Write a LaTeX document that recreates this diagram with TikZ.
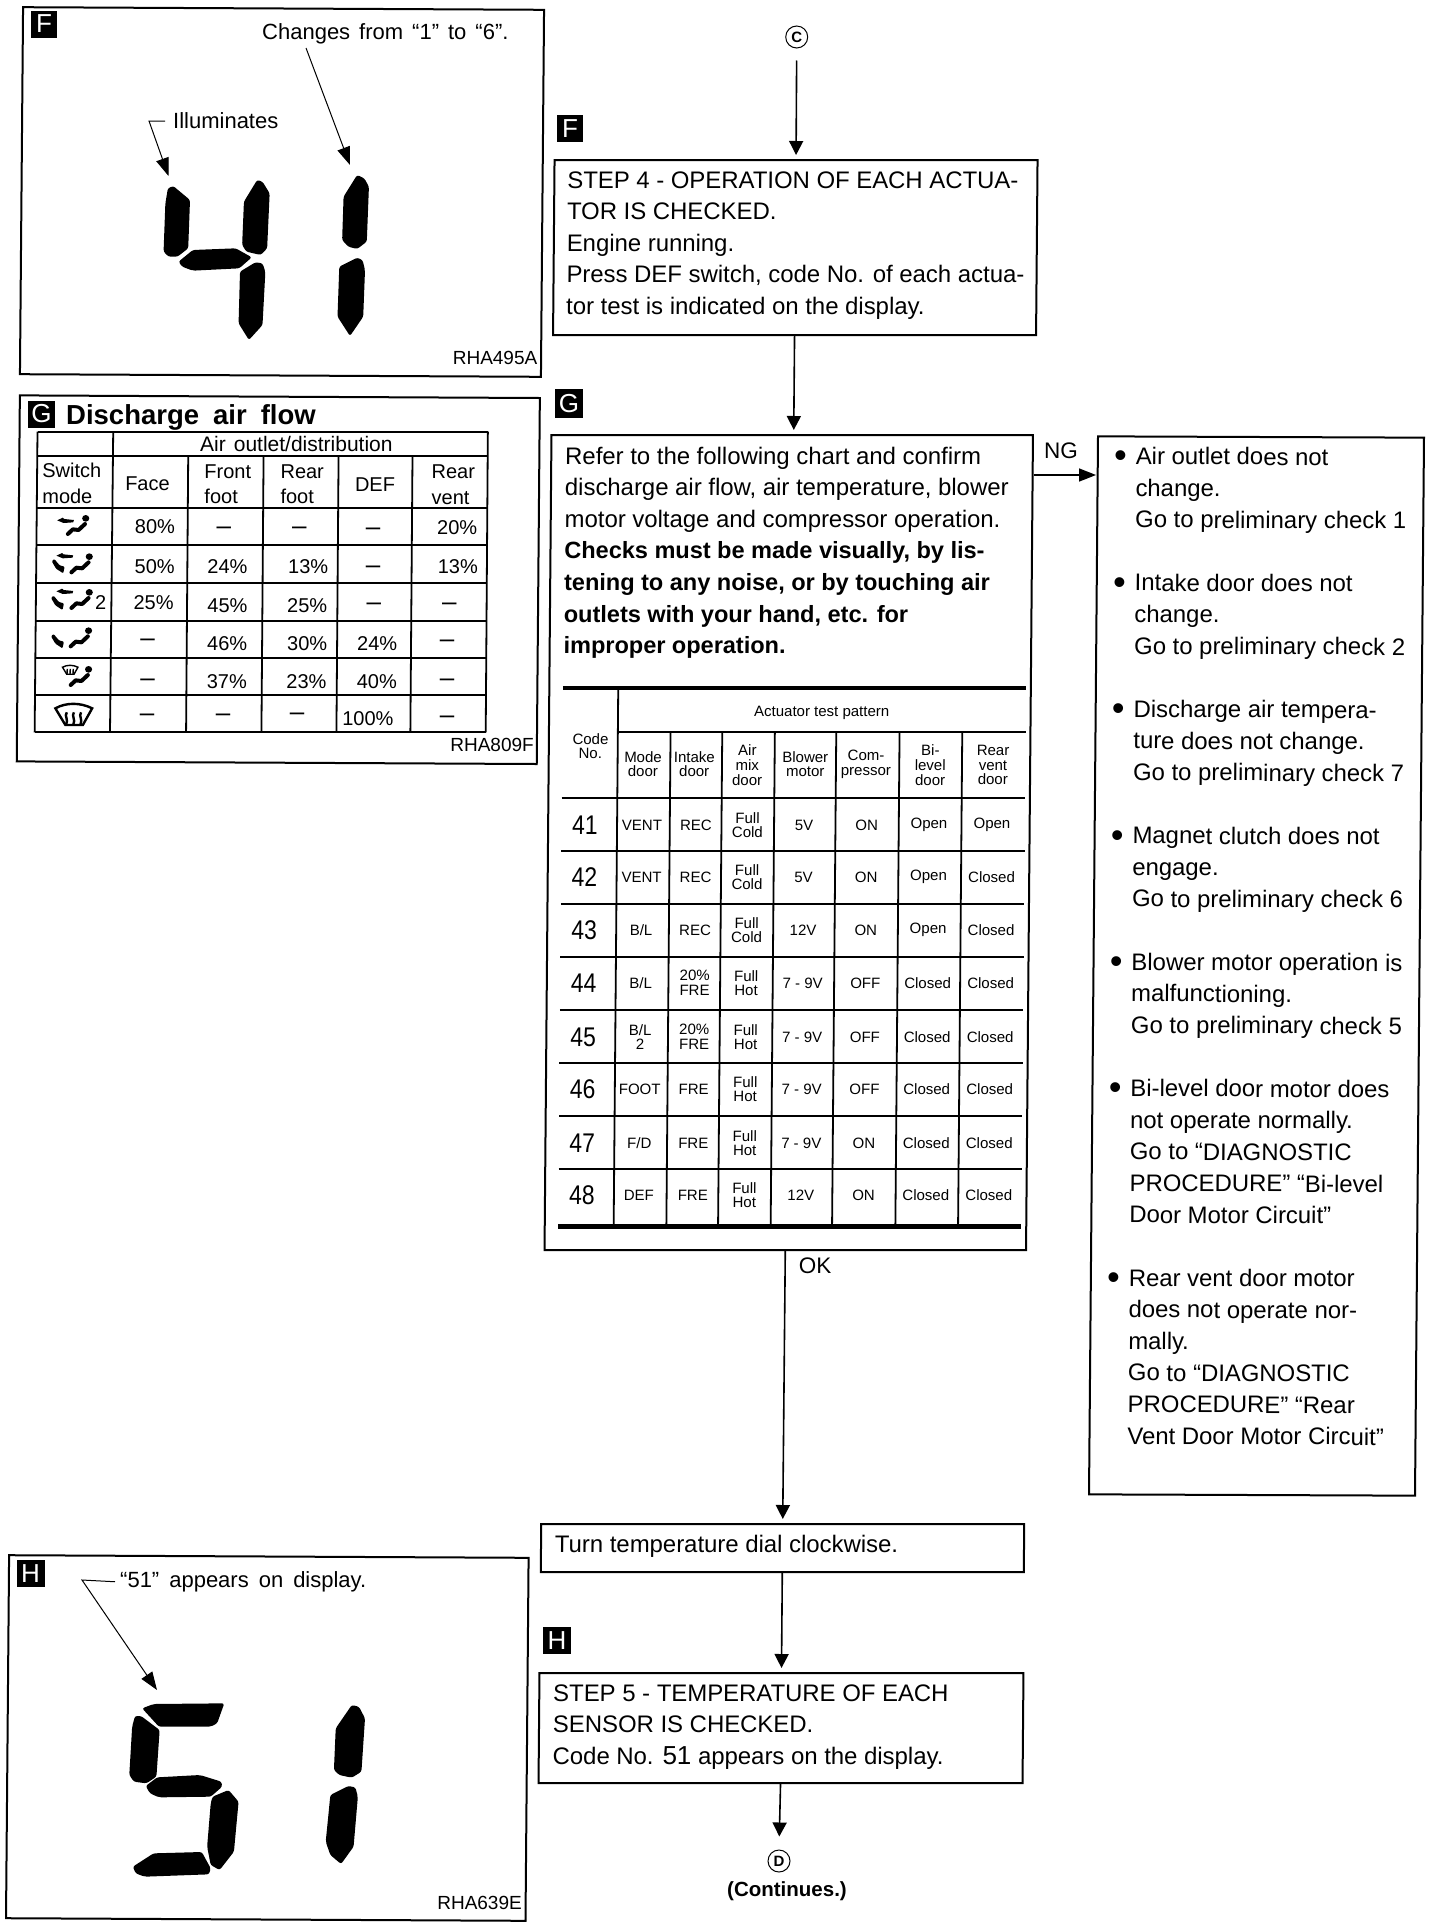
\documentclass[tikz,border=0pt]{standalone}
\usepackage{fontspec}
\setmainfont{Liberation Sans}
\usetikzlibrary{arrows.meta}
\newcommand\fs[2]{\fontsize{#1pt}{#2pt}\selectfont}
% width, height, left offset, first baseline, text
\newcommand\boxtxt[5]{\parbox[c][#2pt][t]{#1pt}{\parindent=0pt\leftskip=#3pt\rightskip=0pt plus 1fil\parfillskip=0pt plus 1fil\fs{23.9}{31.6}\rule{0pt}{#4pt}#5}}
\newcommand\bul{\makebox[0pt][r]{\raisebox{-3.5pt}{\fs{36}{36}•}\hspace{9pt}}}
\newcommand\dsh{{\fs{26}{26}–}}
\newcommand\fc{Full\\Cold}
\newcommand\fh{Full\\Hot}
\newcommand\twf{20\%\\FRE}
\newcommand\blv{B/L}
\newcommand\bltwo{B/L\\2}
\newcommand\fdv{F/D}
\newcommand\seatic[2]{\begin{scope}[shift={(#1,#2)}]
  \fill (240,385) circle[radius=10];
  \draw[line width=4pt,line cap=round,line join=round] (190,432) -- (204,418) -- (220,420) -- (238,402);
\end{scope}}
\newcommand\faceic[2]{\fill[shift={(#1,#2)}] (160,391) -- (176,383) -- (180,387) -- (207,390) -- (205,397) -- (178,399) -- cycle;}
\newcommand\footic[2]{\fill[shift={(#1,#2)},rounded corners=1pt] (143,514) -- (150,507) -- (165,526) -- (179,530) -- (175,550) -- (155,536) -- cycle;}
\newcommand\defrostic[4]{\begin{scope}[shift={(#1,#2)},scale=#3,line width=#4]
  \draw (-50,-20) .. controls (-20,-38) and (20,-38) .. (53,-20) -- (27,30) -- (-22,30) -- cycle;
  \foreach \q in {-18,2,22}{\draw (\q,-8) .. controls (\q-8,4) and (\q+6,12) .. (\q-2,30);}
\end{scope}}
\tikzset{
  skewat/.style n args={3}{shift={(#1,#2)},xslant=0.0085,yslant=#3,shift={(-#1,-#2)}},
  zoomview/.style={shift={(#1)},x=0.35714pt,y=-0.33333pt},
  every node/.style={inner sep=0pt,transform shape},
  flowbox/.style={draw,line width=2pt,fill=white},
  panelbox/.style={draw,line width=2pt},
  tagbox/.style={fill=black,text=white,minimum width=27pt,minimum height=27pt,font=\fs{26}{26}},
  plain/.style={font=\fs{22}{22}},
  rha/.style={anchor=east,font=\fs{19}{19}},
  flow/.style={line width=1.6pt,-{Triangle[length=14pt,width=14pt]},shorten >=4pt},
  leader/.style={line width=1pt,line join=miter,-{Triangle[length=18pt,width=13pt]}},
  seg/.style={fill=black,rounded corners=2.2pt},
  conn/.style={circle,draw,line width=1pt,minimum size=22pt,font=\bfseries\fs{15}{15}},
  tline/.style={line width=1.8pt},
  airc/.style={font=\fs{20}{20},text height=14.3pt,text depth=0pt},
  airl/.style={font=\fs{20}{25.7},align=left,anchor=west},
  tc/.style={font=\fs{15}{14.7},align=center},
  codec/.style={font=\fs{27}{27}},
}
\begin{document}
\begin{tikzpicture}[x=1pt,y=-1pt]
\fill[white] (0,0) rectangle (1440,1930);
\useasboundingbox (0,0) rectangle (1440,1930);

% ---------- Panel F ----------
\begin{scope}[skewat={282}{192}{-0.005}]
\node[panelbox,minimum width=521pt,minimum height=367pt] (panelF) at (282,192) {};
\end{scope}
\node[tagbox,minimum width=26pt] (tagPF) at (44,24) {F};
\node[plain,anchor=west] (chg) at (262,33.5) {\spaceskip=9pt Changes from “1” to “6”.};
\node[plain,anchor=west] (illum) at (173,121) {Illuminates};
\node[rha] (rhaF) at (537.5,358) {RHA495A};
\coordinate (illcorner) at (149,121);
\coordinate (illtip) at (168.5,176);
\coordinate (chgstart) at (306,48);
\coordinate (chgtip) at (350,165);
\draw[leader,shorten <=8pt] (illum.west) -- (illcorner) -- (illtip);
\draw[leader] (chgstart) -- (chgtip);
\begin{scope}[zoomview={0,0}]
\fill[seg] (470,565) -- (485,558) -- (532,600) -- (527,745) -- (497,770) -- (472,770) -- (458,755) -- (463,610) -- cycle;
\fill[seg] (720,540) -- (735,545) -- (755,580) -- (748,745) -- (730,765) -- (690,755) -- (678,735) -- (683,605) -- cycle;
\fill[seg] (500,785) -- (540,750) -- (660,745) -- (705,772) -- (670,805) -- (540,812) -- (510,800) -- cycle;
\fill[seg] (715,787) -- (735,790) -- (743,815) -- (735,975) -- (697,1020) -- (668,970) -- (672,815) -- cycle;
\fill[seg] (1000,525) -- (1020,535) -- (1033,560) -- (1027,725) -- (1000,747) -- (975,740) -- (958,720) -- (962,590) -- cycle;
\fill[seg] (1000,773) -- (1015,780) -- (1022,810) -- (1017,950) -- (980,1008) -- (945,950) -- (950,800) -- cycle;
\end{scope}

% ---------- Panel G ----------
\begin{scope}[skewat={278.3}{579.7}{-0.005}]
\node[panelbox,minimum width=520pt,minimum height=366pt] (panelG) at (278.3,579.7) {};
\end{scope}
\node[tagbox] (tagPG) at (41.5,414) {G};
\node[anchor=west,font=\bfseries\fs{27.5}{27.5}] (dtitle) at (66,417) {\spaceskip=14pt Discharge air flow};
\node[rha] (rhaG) at (534,745) {RHA809F};
\begin{scope}[zoomview={0,390}]
\foreach \xa/\ya/\xb in {105/125/1366,104.4/197/1365.5,103/355/1364.5,102/465/1364,101/580/1363,100/692/1362,99/803/1361.5,98/915/1361,97/1027/1360}
  \draw[tline] (\xa,\ya) -- (\xb,\ya);
\draw[tline] (105,125) -- (97,1027);
\draw[tline] (317,125) -- (308,1027);
\draw[tline] (527,197) -- (521,1027);
\draw[tline] (738,197) -- (732,1027);
\draw[tline] (948,197) -- (942,1027);
\draw[tline] (1155,197) -- (1149,1027);
\draw[tline] (1366,125) -- (1360,1027);
\node[airc,font=\fs{21}{21}] (airhead) at (830,163) {\spaceskip=8pt Air outlet/distribution};
\node[airl] (hsw) at (118,281) {Switch\\mode};
\node[airc] (hface) at (413,280) {Face};
\node[airl] (hff) at (572,283) {Front\\foot};
\node[airl] (hrf) at (785,283) {Rear\\foot};
\node[airc] (hdef) at (1050,282) {DEF};
\node[airl] (hrv) at (1208,285) {Rear\\vent};
\foreach \xx/\yy/\lbl in {434/410/80\%,627/412/\dsh,838/412/\dsh,1045/414/\dsh,1280/412/20\%,
  433/528/50\%,637/530/24\%,863/530/13\%,1045/530/\dsh,1282/530/13\%,
  430/636/25\%,637/645/45\%,860/645/25\%,1047/640/\dsh,1258/640/\dsh,
  413/748/\dsh,636/760/46\%,860/760/30\%,1056/760/24\%,1252/752/\dsh,
  413/868/\dsh,635/873/37\%,858/873/23\%,1055/875/40\%,1252/868/\dsh,
  412/972/\dsh,625/972/\dsh,832/970/\dsh,1030/985/100\%,1252/978/\dsh}
  \node[airc,name=dc\xx-\yy] at (\xx,\yy) {\lbl};
\node[airc] (mode2) at (282,638) {2};
\seatic{0}{0}\faceic{0}{0}
\seatic{10}{115}\faceic{-2}{106}\footic{2}{0}
\seatic{10}{222}\faceic{-2}{213}\footic{0}{110}
\seatic{8}{337}\footic{0}{225}
\seatic{8}{453}
\defrostic{196}{840}{0.42}{1.4pt}
\defrostic{205}{975}{1}{2.4pt}
\end{scope}

% ---------- Panel H ----------
\begin{scope}[skewat={267.3}{1738}{-0.005}]
\node[panelbox,minimum width=519.5pt,minimum height=363pt] (panelH) at (267.3,1738) {};
\end{scope}
\node[tagbox,minimum width=28pt] (tagPH) at (30.5,1573.5) {H};
\node[plain,anchor=west] (appears) at (120,1582) {\spaceskip=10pt “51” appears on display.};
\node[rha] (rhaH) at (522,1903) {RHA639E};
\coordinate (hcorner) at (82,1580);
\coordinate (htip) at (157,1690);
\draw[leader,shorten <=5pt] (appears.west) -- (hcorner) -- (htip);
\begin{scope}[zoomview={0,1540}]
\fill[seg] (398,505) -- (430,492) -- (628,490) -- (608,550) -- (590,560) -- (445,560) -- cycle;
\fill[seg] (378,528) -- (395,528) -- (447,570) -- (438,710) -- (410,730) -- (375,725) -- (362,705) -- (370,560) -- cycle;
\fill[seg] (408,738) -- (440,712) -- (560,705) -- (620,725) -- (622,740) -- (590,770) -- (445,772) -- (420,760) -- cycle;
\fill[seg] (595,770) -- (640,750) -- (668,785) -- (655,935) -- (615,990) -- (590,975) -- (580,920) -- (590,790) -- cycle;
\fill[seg] (372,980) -- (430,940) -- (565,936) -- (590,985) -- (585,1003) -- (405,1010) -- (380,1000) -- cycle;
\fill[seg] (985,495) -- (1005,500) -- (1022,535) -- (1012,695) -- (985,713) -- (950,705) -- (935,690) -- (940,565) -- cycle;
\fill[seg] (975,738) -- (995,742) -- (1002,770) -- (990,920) -- (955,972) -- (925,945) -- (912,905) -- (925,765) -- cycle;
\end{scope}

% ---------- Flow ----------
\node[conn] (conC) at (796.7,37) {C};
\node[tagbox,minimum width=26pt] (tagF) at (570,128.5) {F};
\begin{scope}[skewat={795.3}{247.5}{0}]
\node[flowbox] (step4) at (795.3,247.5) {\boxtxt{483}{175}{13}{28}{STEP 4 - OPERATION OF EACH ACTUA-\\TOR IS CHECKED.\\Engine running.\\Press DEF switch, code No. of each actua-\\tor test is indicated on the display.}};
\end{scope}
\node[tagbox,minimum width=28pt,minimum height=29pt] (tagG) at (569,403.5) {G};
\begin{scope}[skewat={788.75}{842.5}{0}]
\node[flowbox] (stepG) at (788.75,842.5) {\boxtxt{481.5}{815}{14}{29}{Refer to the following chart and confirm\\discharge air flow, air temperature, blower\\motor voltage and compressor operation.\\\textbf{\fs{23.5}{31.6}Checks must be made visually, by lis-\\tening to any noise, or by touching air\\outlets with your hand, etc. for\\improper operation.}}};
\end{scope}
% right box
\begin{scope}[skewat={1256.5}{966}{-0.004}]
\node[flowbox] (ngbox) at (1256.5,966) {\boxtxt{326}{1058}{38}{28}{\bul Air outlet does not\\change.\\Go to preliminary check 1\\[31.6pt]\bul Intake door does not\\change.\\Go to preliminary check 2\\[31.6pt]\bul Discharge air tempera-\\ture does not change.\\Go to preliminary check 7\\[31.6pt]\bul Magnet clutch does not\\engage.\\Go to preliminary check 6\\[31.6pt]\bul Blower motor operation is\\malfunctioning.\\Go to preliminary check 5\\[31.6pt]\bul Bi-level door motor does\\not operate normally.\\Go to “DIAGNOSTIC\\PROCEDURE” “Bi-level\\Door Motor Circuit”\\[31.6pt]\bul Rear vent door motor\\does not operate nor-\\mally.\\Go to “DIAGNOSTIC\\PROCEDURE” “Rear\\Vent Door Motor Circuit”}};
\end{scope}
\begin{scope}[skewat={782.5}{1548}{0}]
\node[flowbox] (turn) at (782.5,1548) {\boxtxt{483}{48}{14}{28.4}{Turn temperature dial clockwise.}};
\end{scope}
\node[tagbox,minimum width=28pt] (tagH) at (557,1640.5) {H};
\begin{scope}[skewat={781}{1728}{0}]
\node[flowbox] (step5) at (781,1728) {\boxtxt{484}{110}{14}{28}{STEP 5 - TEMPERATURE OF EACH\\SENSOR IS CHECKED.\\Code No. {\fs{26}{26}51} appears on the display.}};
\end{scope}
\node[conn] (conD) at (779,1861) {D};
\node[anchor=center,font=\bfseries\fs{20.5}{20.5}] (cont) at (787,1891) {(Continues.)};
\node[font=\fs{22.5}{22.5}] (ngl) at (1061,451) {NG};
\node[font=\fs{22.5}{22.5}] (okl) at (815,1266) {OK};
\coordinate (ngy) at (0,475);
\draw[flow,shorten <=12pt] (conC.south) -- (step4.north);
\draw[flow] (step4.south) -- ([xshift=1.5pt]stepG.north);
\draw[flow,shorten >=1pt,-{Triangle[length=17pt,width=13pt]}] (stepG.north east |- ngy) -- (ngbox.north west |- ngy);
\draw[flow] (stepG.south) -- (turn.north);
\draw[flow] (turn.south) -- (step5.north);
\draw[flow,shorten >=13pt] (step5.south) -- (conD.north);

% ---------- Actuator table ----------
\begin{scope}[skewat={0}{798}{0}]
\draw[line width=4.5pt] (562,688) -- (1025,688);
\draw[tline] (617.3,690) -- (617.3,1226);
\draw[tline] (617.3,732) -- (1025,732);
\foreach \xx in {670,721.7,774.3,835.7,899,961.7} \draw[tline] (\xx,732) -- (\xx,1226);
\foreach \yy in {798,851.3,904,956.7,1010,1063.3,1116,1169.3} \draw[tline] (561.7,\yy) -- (1025,\yy);
\draw[line width=4.5pt] (561.7,1226.5) -- (1025,1226.5);
\node[tc] (hact) at (821,712.5) {Actuator test pattern};
\node[tc] (hcode) at (590,746) {Code\\No.};
\node[tc] (hmode) at (642.7,764) {Mode\\door};
\node[tc] (hint) at (694,764) {Intake\\door};
\node[tc] (hair) at (747,765) {Air\\mix\\door};
\node[tc] (hblo) at (805,764) {Blower\\motor};
\node[tc] (hcom) at (865.7,764) {Com-\\pressor};
\node[tc] (hbi) at (930,765) {Bi-\\level\\door};
\node[tc] (hrea) at (992.7,765) {Rear\\vent\\door};
\end{scope}
\begin{scope}[skewat={0}{825}{0}]
\foreach \yy/\cd/\va/\vb/\vc/\vd/\ve/\vf/\vg in {
  825/41/VENT/REC/\fc/5V/ON/Open/Open,
  877/42/VENT/REC/\fc/5V/ON/Open/Closed,
  930/43/\blv/REC/\fc/12V/ON/Open/Closed,
  983/44/\blv/\twf/\fh/7 - 9V/OFF/Closed/Closed,
  1037/45/\bltwo/\twf/\fh/7 - 9V/OFF/Closed/Closed,
  1089/46/FOOT/FRE/\fh/7 - 9V/OFF/Closed/Closed,
  1143/47/\fdv/FRE/\fh/7 - 9V/ON/Closed/Closed,
  1195/48/DEF/FRE/\fh/12V/ON/Closed/Closed}{
  \node[codec,name=code\cd] at (585,\yy) {\scalebox{.85}[1]{\cd}};
  \node[tc,name=ra\cd] at (642,\yy) {\va};
  \node[tc,name=rb\cd] at (696,\yy) {\vb};
  \node[tc,name=rc\cd] at (747.5,\yy) {\vc};
  \node[tc,name=rd\cd] at (804,\yy) {\vd};
  \node[tc,name=re\cd] at (866.7,\yy) {\ve};
  \node[tc,name=rf\cd] at (929,\yy) {\vf};
  \node[tc,name=rg\cd] at (992,\yy) {\vg};
}
\end{scope}
\end{tikzpicture}
\end{document}
